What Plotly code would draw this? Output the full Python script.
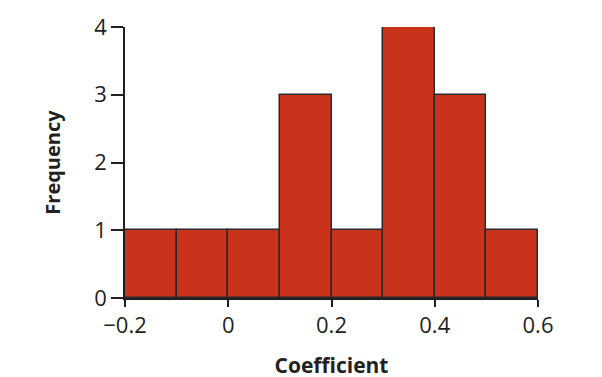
import plotly.graph_objects as go

bin_edges = [-0.2, -0.1, 0.0, 0.1, 0.2, 0.3, 0.4, 0.5, 0.6]
frequencies = [1, 1, 1, 3, 1, 4, 3, 1]
x_ticks = [-0.2, 0, 0.2, 0.4, 0.6]
x_tick_labels = ["\u22120.2", "0", "0.2", "0.4", "0.6"]
y_ticks = [0, 1, 2, 3, 4]

left_edges = bin_edges[:-1]
widths = [b - a for a, b in zip(bin_edges[:-1], bin_edges[1:])]

fig = go.Figure(go.Bar(
    x=left_edges, y=frequencies, width=widths, offset=0,
    marker=dict(color="#C9331B", line=dict(color="#2a2a2a", width=1.5)),
))

font_family = "Open Sans, Noto Sans, sans-serif"
fig.update_layout(
    width=602, height=377,
    margin=dict(l=117, r=72, t=19, b=87, autoexpand=False),
    plot_bgcolor="white", paper_bgcolor="white",
    showlegend=False, bargap=0,
    font=dict(family=font_family, color="#231f20", size=22),
)
fig.update_xaxes(
    range=[-0.2, 0.6], tickvals=x_ticks, ticktext=x_tick_labels,
    showline=True, linecolor="#231f20", linewidth=1.5,
    ticks="outside", ticklen=7, tickwidth=1.5, tickcolor="#231f20",
    showgrid=False, zeroline=False, automargin=False,
    title=dict(text="<b>Coefficient</b>", font=dict(size=21), standoff=20),
)
fig.update_yaxes(
    range=[0, 4], tickvals=y_ticks,
    showline=True, linecolor="#231f20", linewidth=1.5,
    ticks="outside", ticklen=12, tickwidth=1.5, tickcolor="#231f20",
    showgrid=False, zeroline=False, automargin=False,
    title=dict(text="<b>Frequency</b>", font=dict(size=20), standoff=28),
)

fig.write_html("out.html")
